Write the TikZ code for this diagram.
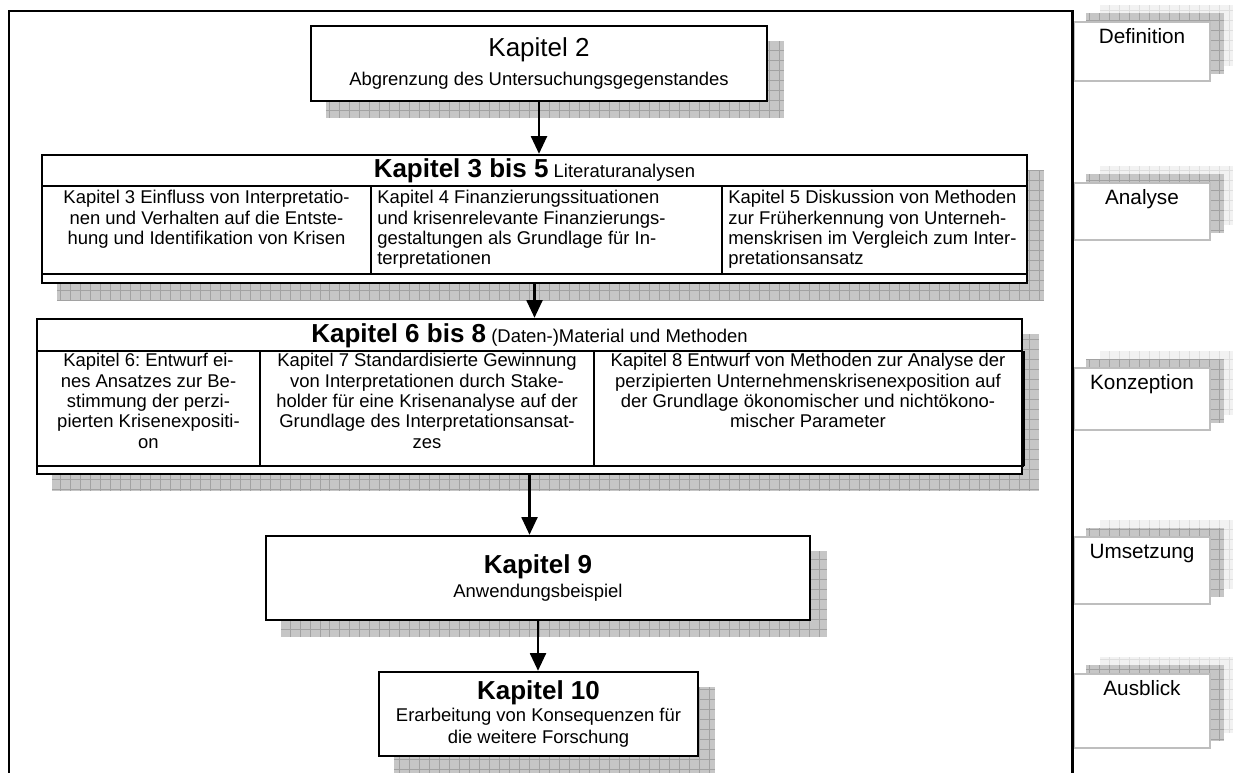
\documentclass[tikz,border=0pt]{standalone}
\usepackage{fontspec}
\setmainfont{Liberation Sans}
\usetikzlibrary{arrows.meta,calc,backgrounds}

\definecolor{shadefill}{HTML}{C6C6C6}
\definecolor{shadegrid}{HTML}{A2A2A2}
\definecolor{paleshade}{HTML}{F2F2F2}
\definecolor{palegrid}{HTML}{DEDEDE}
\definecolor{tagline}{HTML}{BEBEBE}

\newcommand{\bigbold}{\fontsize{14.8}{17}\selectfont\bfseries}
% hatched drop shadow: lower left corner, upper right corner, fill, grid colour
\newcommand{\gridshade}[4]{%
  \fill[#3] #1 rectangle #2;
  \begin{scope}
    \clip #1 rectangle #2;
    \draw[#4, line width=0.5pt, step=2mm] #1 grid #2;
  \end{scope}}

\frenchspacing
\begin{document}
\begin{tikzpicture}[
  x=0.02cm, y=-0.02cm,
  every node/.style={font=\fontsize{10.5}{11.6}\selectfont},
  kbox/.style={draw, line width=1.4pt, fill=white, inner sep=0pt, align=center},
  coltext/.style={inner sep=0pt, align=center},
  hline/.style={line width=1.2pt},
  frameline/.style={line width=1.7pt},
  flow/.style={line width=1.4pt, -{Triangle[length=10pt, width=9pt]}},
  tagbox/.style={draw=tagline, line width=1pt, fill=white, inner sep=0pt,
    minimum width=77.4pt, text height=12.5pt, anchor=north,
    font=\fontsize{11.8}{14}\selectfont}
]
  % page = 1233 x 773 px, one unit = one px
  \useasboundingbox (0,0) rectangle (1233,773);

  % Kapitel 2
  \node[kbox, minimum width=259.5pt, minimum height=42.7pt] (k2) at (539,63.5)
    {{\fontsize{14.8}{17}\selectfont Kapitel 2}\\[5pt] Abgrenzung des Untersuchungsgegenstandes};

  % Kapitel 3 bis 5
  \node[kbox, minimum width=560.5pt, minimum height=72.8pt] (k35) at (534.5,219) {};
  \node (h35) at (534.5,171) {{\bigbold Kapitel 3 bis 5} Literaturanalysen};
  \draw[hline] (42,186) -- (1027,186);
  \draw[hline] (42,274) -- (1027,274);
  \draw[hline] (371,186) -- (371,274);
  \draw[hline] (722,186) -- (722,274);
  \node[coltext, anchor=north] (c3) at (206.5,190)
    {Kapitel 3 Einfluss von Interpretatio-\\nen und Verhalten auf die Entste-\\hung und Identifikation von Krisen};
  \node[coltext, align=left, anchor=north west] (c4) at (377,190)
    {Kapitel 4 Finanzierungssituationen\\und krisenrelevante Finanzierungs-\\gestaltungen als Grundlage für In-\\terpretationen};
  \node[coltext, align=left, anchor=north west] (c5) at (728,190)
    {Kapitel 5 Diskussion von Methoden\\zur Früherkennung von Unterneh-\\menskrisen im Vergleich zum Inter-\\pretationsansatz};

  % Kapitel 6 bis 8
  \node[kbox, minimum width=560.5pt, minimum height=88.2pt] (k68) at (529.5,396.5) {};
  \node (h68) at (529.5,336) {{\bigbold Kapitel 6 bis 8} (Daten-)Material und Methoden};
  \draw[hline] (37,351) -- (1022,351);
  \draw[hline] (37,466) -- (1024,466);
  \draw[hline] (1024,351) -- (1024,466);
  \draw[hline] (260,351) -- (260,466);
  \draw[hline] (594,351) -- (594,466);
  \node[coltext, anchor=north] (c6) at (148.5,353)
    {Kapitel 6: Entwurf ei-\\nes Ansatzes zur Be-\\stimmung der perzi-\\pierten Krisenexpositi-\\on};
  \node[coltext, anchor=north] (c7) at (427,353)
    {Kapitel 7 Standardisierte Gewinnung\\von Interpretationen durch Stake-\\holder für eine Krisenanalyse auf der\\Grundlage des Interpretationsansat-\\zes};
  \node[coltext, anchor=north] (c8) at (808,353)
    {Kapitel 8 Entwurf von Methoden zur Analyse der\\perzipierten Unternehmenskrisenexposition auf\\der Grundlage ökonomischer und nichtökono-\\mischer Parameter};

  % Kapitel 9 and 10
  \node[kbox, minimum width=309.6pt, minimum height=47.8pt] (k9) at (538,578)
    {{\bigbold Kapitel 9}\\[2pt] Anwendungsbeispiel};
  \node[kbox, minimum width=181.5pt, minimum height=47.8pt] (k10) at (538.5,714)
    {{\bigbold Kapitel 10}\\[1pt] Erarbeitung von Konsequenzen für\\[1pt] die weitere Forschung};

  \draw[flow] (k2.south) -- (k2.south |- k35.north);
  \draw[flow] (k35.south) -- (k35.south |- k68.north);
  \draw[flow] (k68.south) -- (k68.south |- k9.north);
  \draw[flow] (k9.south) -- (k9.south |- k10.north);

  % phase tags on the right
  \node[tagbox, text depth=21.1pt] (tdef) at (1142,21) {Definition};
  \node[tagbox, text depth=19.9pt] (tana) at (1142,182) {Analyse};
  \node[tagbox, text depth=22.8pt] (tkon) at (1142,367) {Konzeption};
  \node[tagbox, text depth=25.6pt] (tums) at (1142,536) {Umsetzung};
  \node[tagbox, text depth=29.6pt] (taus) at (1142,673) {Ausblick};

  \begin{scope}[on background layer]
    \foreach \b in {k2,k35,k68,k9,k10}
      \gridshade{($(\b.south west)+(16,16)$)}{($(\b.north east)+(16,16)$)}{shadefill}{shadegrid};
    \foreach \t in {tdef,tana,tkon,tums,taus} {
      \gridshade{($(\t.south west)+(27,-16)$)}{($(\t.north east)+(27,-16)$)}{paleshade}{palegrid};
      \gridshade{($(\t.south west)+(13,-8)$)}{($(\t.north east)+(13,-8)$)}{shadefill}{shadegrid};
    }
  \end{scope}

  % outer frame
  \draw[frameline] (9,773) -- (9,11) -- (1072,11) -- (1072,773);
\end{tikzpicture}
\end{document}
